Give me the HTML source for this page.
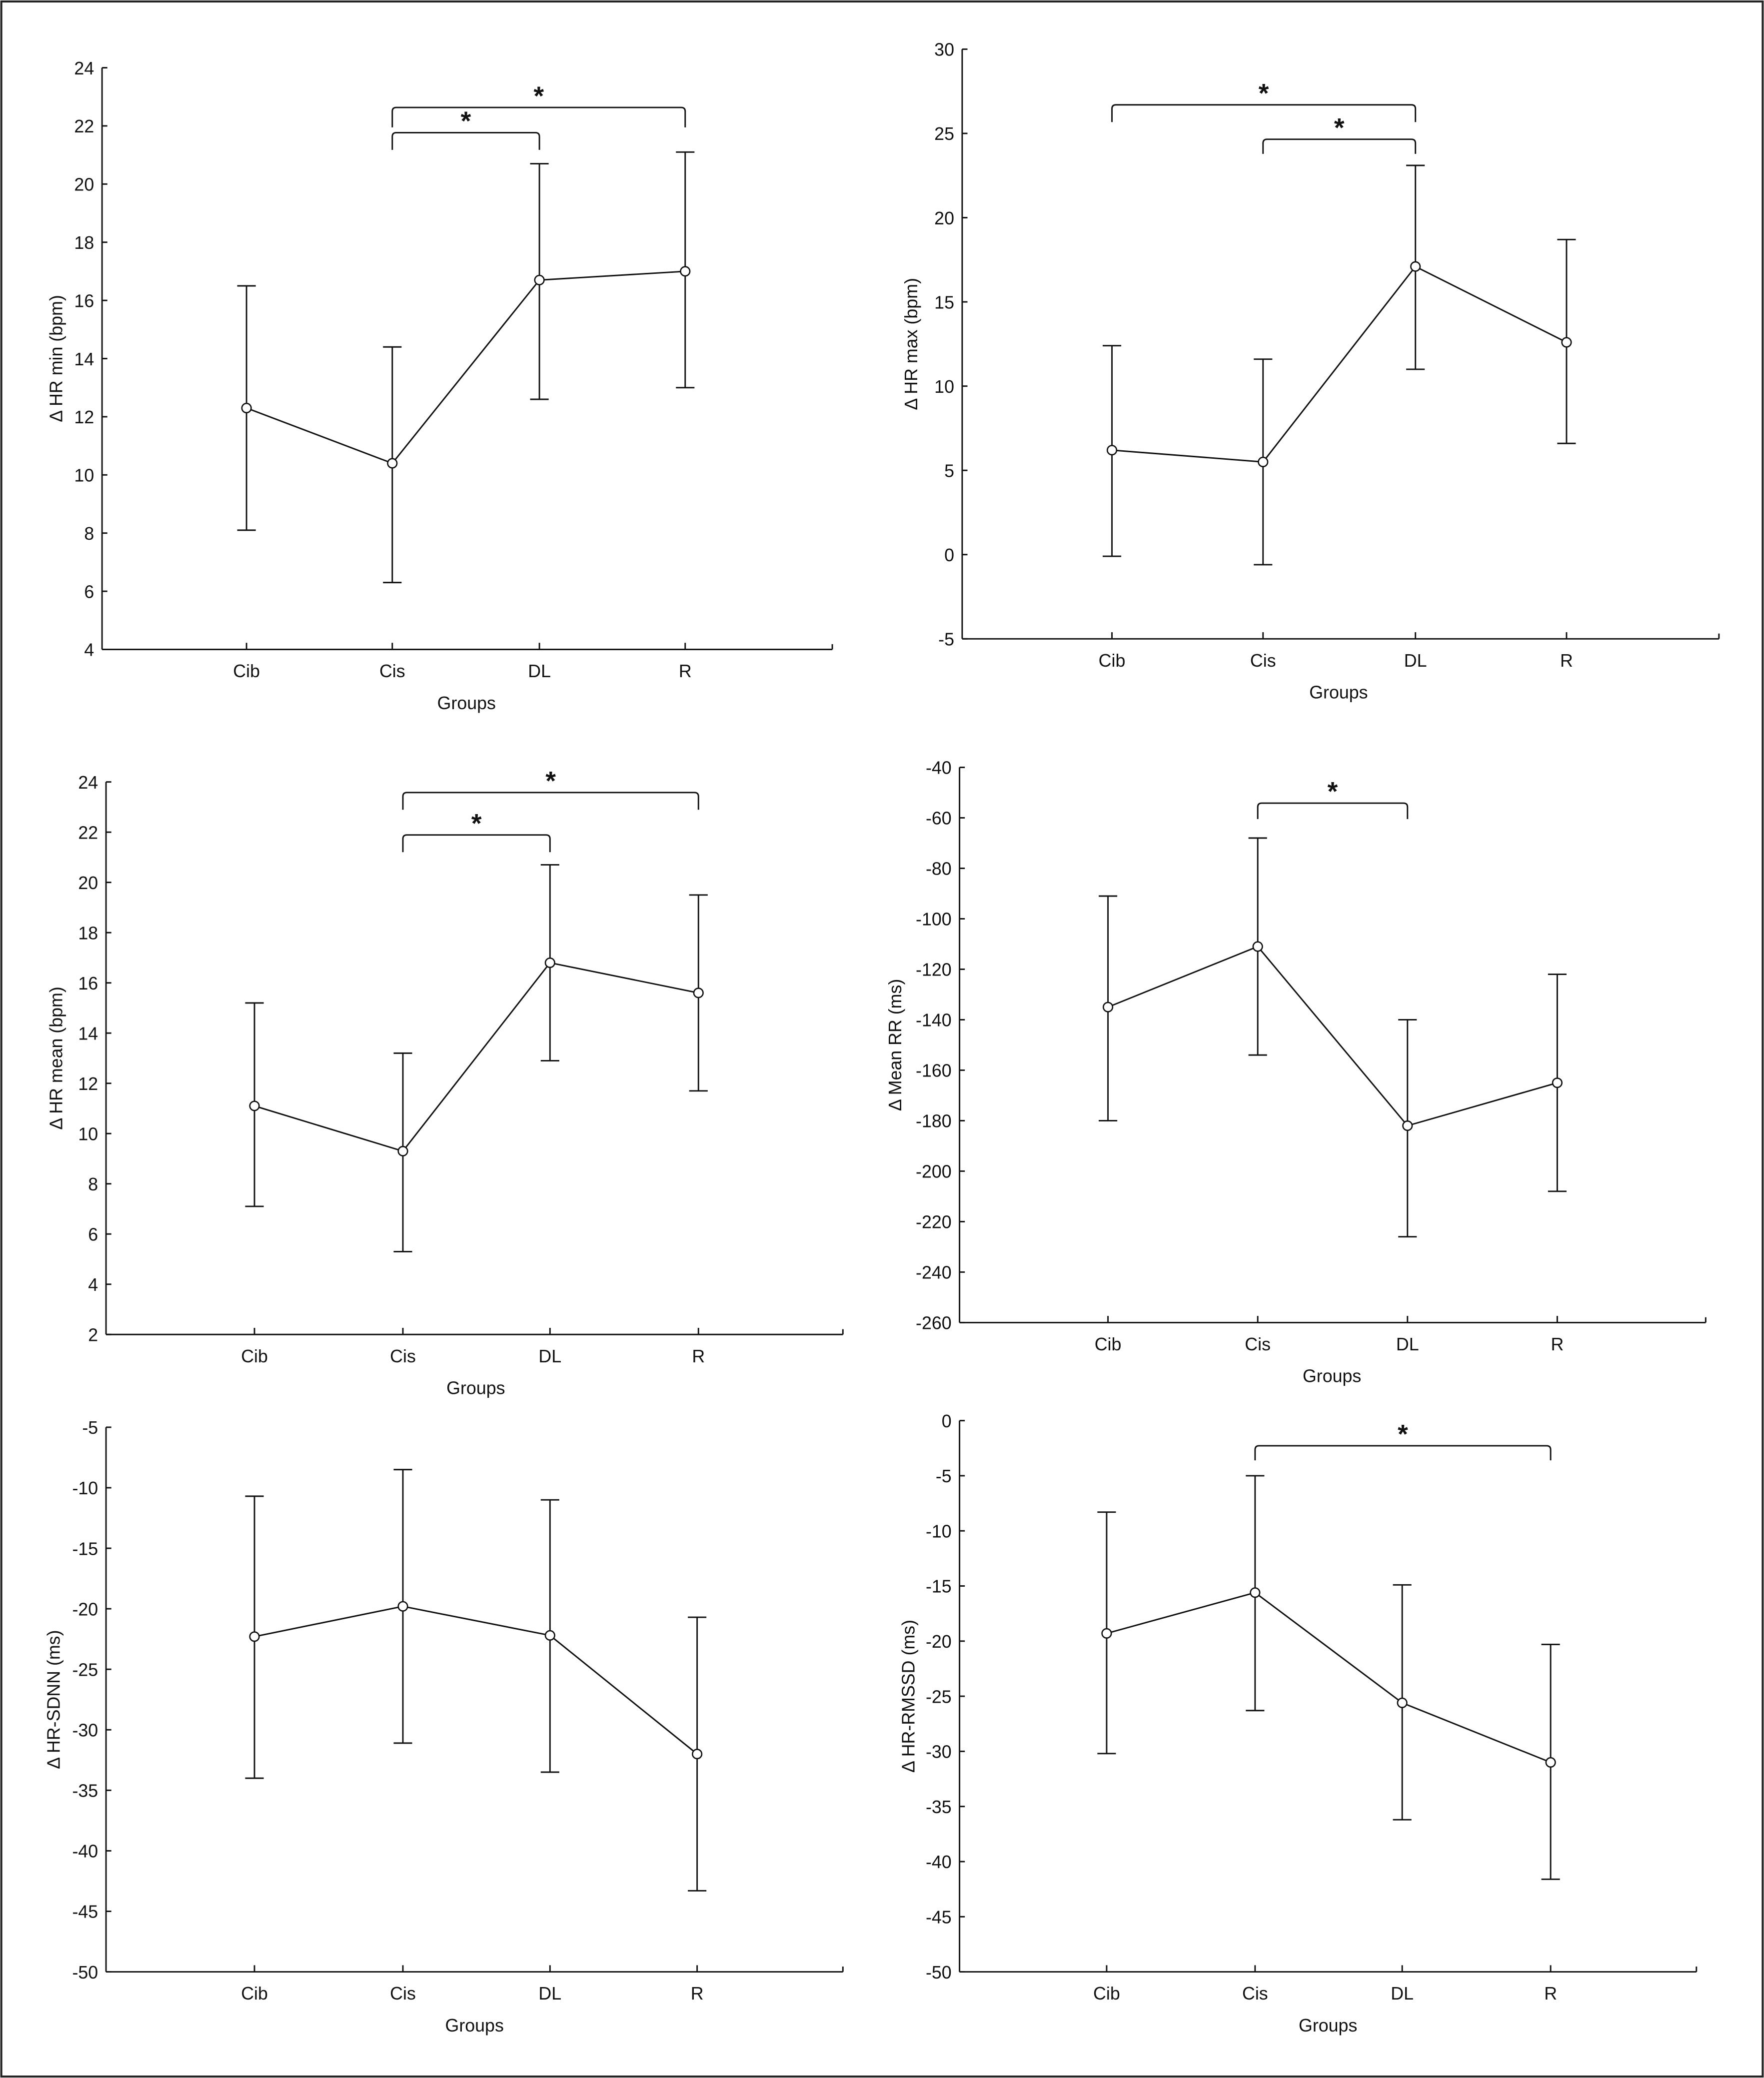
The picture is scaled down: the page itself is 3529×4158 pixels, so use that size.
<!DOCTYPE html>
<html><head><meta charset="utf-8"><style>
html,body{margin:0;padding:0;background:#fff}
svg{display:block}
text{font-family:"Liberation Sans",Arial,sans-serif;fill:#111}
</style></head><body>
<svg id="fig" width="3529" height="4158" viewBox="0 0 1331 1568" xmlns="http://www.w3.org/2000/svg">
<rect x="1" y="1" width="1329" height="1566" fill="#fff" stroke="#222" stroke-width="1.5"/>
</svg>
<script>
// shared categories
const categories = ["Cib","Cis","DL","R"];
// Panel data (means and error bar bounds)
const hrMinMean = [12.3,10.4,16.7,17.0];
const hrMinLow  = [8.1,6.3,12.6,13.0];
const hrMinHigh = [16.5,14.4,20.7,21.1];
const hrMinTicks = [4,6,8,10,12,14,16,18,20,22,24];

const hrMaxMean = [6.2,5.5,17.1,12.6];
const hrMaxLow  = [-0.1,-0.6,11.0,6.6];
const hrMaxHigh = [12.4,11.6,23.1,18.7];
const hrMaxTicks = [-5,0,5,10,15,20,25,30];

const hrMeanMean = [11.1,9.3,16.8,15.6];
const hrMeanLow  = [7.1,5.3,12.9,11.7];
const hrMeanHigh = [15.2,13.2,20.7,19.5];
const hrMeanTicks = [2,4,6,8,10,12,14,16,18,20,22,24];

const rrMean = [-135,-111,-182,-165];
const rrLow  = [-180,-154,-226,-208];
const rrHigh = [-91,-68,-140,-122];
const rrTicks = [-260,-240,-220,-200,-180,-160,-140,-120,-100,-80,-60,-40];

const sdnnMean = [-22.3,-19.8,-22.2,-32.0];
const sdnnLow  = [-34.0,-31.1,-33.5,-43.3];
const sdnnHigh = [-10.7,-8.5,-11.0,-20.7];
const sdnnTicks = [-50,-45,-40,-35,-30,-25,-20,-15,-10,-5];

const rmssdMean = [-19.3,-15.6,-25.6,-31.0];
const rmssdLow  = [-30.2,-26.3,-36.2,-41.6];
const rmssdHigh = [-8.3,-5.0,-14.9,-20.3];
const rmssdTicks = [-50,-45,-40,-35,-30,-25,-20,-15,-10,-5,0];

const svg = document.getElementById('fig');
const NS = 'http://www.w3.org/2000/svg';
function mk(tag, attrs, parent){
  const e = document.createElementNS(NS, tag);
  for (const k in attrs) e.setAttribute(k, attrs[k]);
  parent.appendChild(e); return e;
}
function panel(cfg){
  const g = mk('g', {}, svg);
  
  
  const y = v => cfg.yTop + (cfg.ticks[cfg.ticks.length-1]-v)/(cfg.ticks[cfg.ticks.length-1]-cfg.ticks[0])*(cfg.yBot-cfg.yTop);
  const x = i => cfg.cx[i];
  const st = {stroke:'#111','stroke-width':1.1,fill:'none'};
  const ya = mk('line', Object.assign({x1:cfg.ax,y1:cfg.yTop,x2:cfg.ax,y2:cfg.yBot}, st), g);
  
  
  const xa = mk('line', Object.assign({x1:cfg.ax,y1:cfg.yBot,x2:cfg.xEnd,y2:cfg.yBot}, st), g);
  
  
  mk('line', Object.assign({x1:cfg.xEnd,y1:cfg.yBot,x2:cfg.xEnd,y2:cfg.yBot-4}, st), g);
  cfg.ticks.forEach(t => {
    const yy = y(t);
    mk('line', Object.assign({x1:cfg.ax,y1:yy,x2:cfg.ax+4,y2:yy}, st), g);
    const tx = mk('text', {x:cfg.ax-6,y:yy+5,'text-anchor':'end','font-size':13.5}, g);
    
    
    tx.textContent = t;
  });
  categories.forEach((c,i) => {
    mk('line', Object.assign({x1:x(i),y1:cfg.yBot,x2:x(i),y2:cfg.yBot-5}, st), g);
    const tx = mk('text', {x:x(i),y:cfg.yBot+21,'text-anchor':'middle','font-size':13.5}, g);
    
    
    tx.textContent = c;
  });
  const xt = mk('text', {x:cfg.gx,y:cfg.yBot+45,'text-anchor':'middle','font-size':13.5}, g);
  
  
  xt.textContent = 'Groups';
  const yl = mk('text', {x:0,y:0,'text-anchor':'middle','font-size':13.5,transform:`translate(${cfg.ylx},${(cfg.yTop+cfg.yBot)/2}) rotate(-90)`}, g);
  
  
  yl.textContent = cfg.label;
  // error bars
  categories.forEach((c,i) => {
    const eb = mk('path', Object.assign({d:`M${x(i)},${y(cfg.low[i])}V${y(cfg.high[i])}M${x(i)-7},${y(cfg.low[i])}H${x(i)+7}M${x(i)-7},${y(cfg.high[i])}H${x(i)+7}`}, st), g);
    
    
  });
  const ln = mk('polyline', Object.assign({points:cfg.mean.map((v,i)=>`${x(i)},${y(v)}`).join(' ')}, st), g);
  
  
  cfg.mean.forEach((v,i) => {
    const c = mk('circle', {cx:x(i),cy:y(v),r:3.5,fill:'#fff',stroke:'#111','stroke-width':1}, g);
    
    
  });
  (cfg.brackets||[]).forEach(b => {
    const br = mk('path', Object.assign({d:`M${x(b[0])},${b[3]}V${b[2]+3}Q${x(b[0])},${b[2]} ${x(b[0])+3},${b[2]}H${x(b[1])-3}Q${x(b[1])},${b[2]} ${x(b[1])},${b[2]+3}V${b[3]}`}, st), g);
    
    
    const s = mk('text', {x:(x(b[0])+x(b[1]))/2,y:b[2]-2,'text-anchor':'middle','font-size':20,'font-weight':'bold'}, g);
    
    
    s.textContent = '*';
  });
}
panel({name:'panel-hr-min',label:'Δ HR min (bpm)',ticks:hrMinTicks,mean:hrMinMean,low:hrMinLow,high:hrMinHigh,
  ax:77,xEnd:628,yTop:51,yBot:490,cx:[186,296,407,517],gx:352,ylx:47,
  brackets:[[1,2,100,113],[1,3,81,96]]});
panel({name:'panel-hr-max',label:'Δ HR max (bpm)',ticks:hrMaxTicks,mean:hrMaxMean,low:hrMaxLow,high:hrMaxHigh,
  ax:726,xEnd:1297,yTop:37,yBot:482,cx:[839,953,1068,1182],gx:1010,ylx:692,
  brackets:[[0,2,79,92],[1,2,105,116]]});
panel({name:'panel-hr-mean',label:'Δ HR mean (bpm)',ticks:hrMeanTicks,mean:hrMeanMean,low:hrMeanLow,high:hrMeanHigh,
  ax:80,xEnd:636,yTop:590,yBot:1007,cx:[192,304,415,527],gx:359,ylx:47,
  brackets:[[1,2,630,643],[1,3,598,611]]});
panel({name:'panel-mean-rr',label:'Δ Mean RR (ms)',ticks:rrTicks,mean:rrMean,low:rrLow,high:rrHigh,
  ax:724,xEnd:1287,yTop:579,yBot:998,cx:[836,949,1062,1175],gx:1005,ylx:680,
  brackets:[[1,2,606,618]]});
panel({name:'panel-sdnn',label:'Δ HR-SDNN (ms)',ticks:sdnnTicks,mean:sdnnMean,low:sdnnLow,high:sdnnHigh,
  ax:80,xEnd:636,yTop:1077,yBot:1488,cx:[192,304,415,526],gx:358,ylx:45,
  brackets:[]});
panel({name:'panel-rmssd',label:'Δ HR-RMSSD (ms)',ticks:rmssdTicks,mean:rmssdMean,low:rmssdLow,high:rmssdHigh,
  ax:724,xEnd:1280,yTop:1072,yBot:1488,cx:[835,947,1058,1170],gx:1002,ylx:690,
  brackets:[[1,3,1091,1102]]});
</script>
</body></html>
